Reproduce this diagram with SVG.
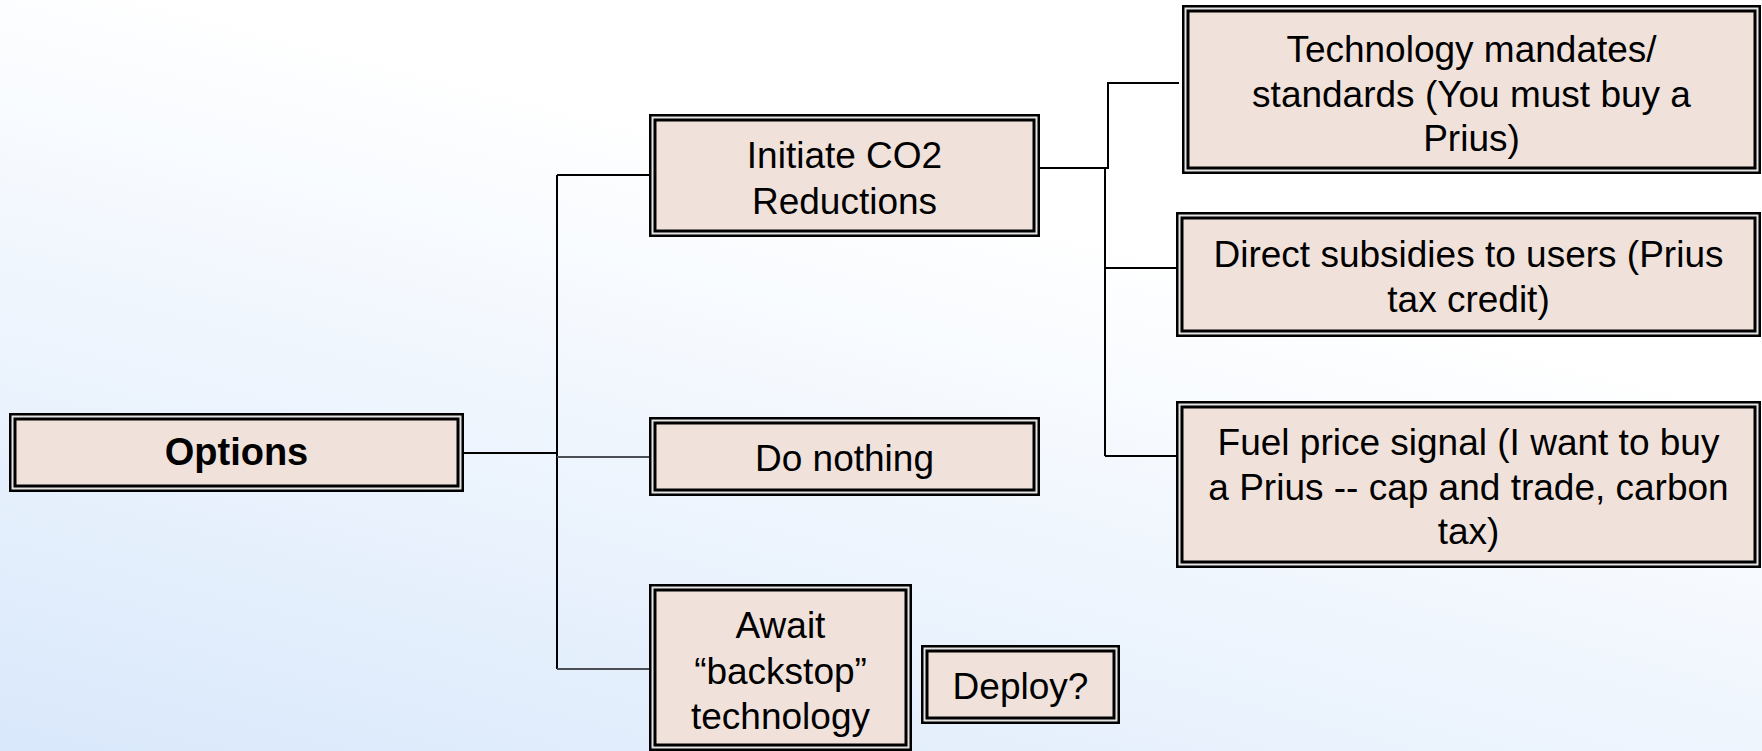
<svg xmlns="http://www.w3.org/2000/svg" width="1762" height="751" viewBox="0 0 1762 751">
  <defs>
    <!-- soft blue wash, light towards the top -->
    <linearGradient id="bg" gradientUnits="userSpaceOnUse" x1="0" y1="751" x2="192" y2="0">
      <stop offset="0" stop-color="#d9e8fb"/>
      <stop offset="1" stop-color="#ffffff"/>
    </linearGradient>
  </defs>
  <style>
    .outer { fill: #e4e4e4; stroke: #000; stroke-width: 2.5; }
    .inner { fill: #f0e2da; stroke: #000; stroke-width: 3; }
    .label { font-family: "Liberation Sans", Arial, sans-serif; font-size: 37px; fill: #000; text-anchor: middle; }
    .bold { font-weight: bold; font-size: 38px; }
    .wire { fill: none; stroke: #000; stroke-width: 2; }
    .wire-soft { fill: none; stroke: #4b4f55; stroke-width: 2; }
  </style>

  <rect x="0" y="0" width="1762" height="751" fill="url(#bg)"/>

  <!-- connectors -->
  <g id="connectors">
    <path class="wire" d="M464 453 H557"/>
    <path class="wire" d="M557 175 V669"/>
    <path class="wire" d="M557 175 H649"/>
    <path class="wire-soft" d="M557 457 H649"/>
    <path class="wire-soft" d="M557 669 H649"/>
    <path class="wire" d="M1040 168 H1108 V83 H1179"/>
    <path class="wire" d="M1105 168 V456"/>
    <path class="wire" d="M1105 268 H1176"/>
    <path class="wire" d="M1105 456 H1176"/>
  </g>

  <!-- root -->
  <g id="options">
    <rect class="outer" x="10.25" y="414.25" width="452.5" height="76.5"/>
    <rect class="inner" x="15" y="419" width="443" height="67"/>
    <text class="label bold" x="236.5" y="465">Options</text>
  </g>

  <!-- first level -->
  <g id="initiate">
    <rect class="outer" x="650.25" y="115.25" width="388.5" height="120.5"/>
    <rect class="inner" x="655" y="120" width="379" height="111"/>
    <text class="label" x="844.5" y="168">Initiate CO2</text>
    <text class="label" x="844.5" y="214">Reductions</text>
  </g>

  <g id="do-nothing">
    <rect class="outer" x="650.25" y="418.25" width="388.5" height="76.5"/>
    <rect class="inner" x="655" y="423" width="379" height="67"/>
    <text class="label" x="844.5" y="471">Do nothing</text>
  </g>

  <g id="await">
    <rect class="outer" x="650.25" y="585.25" width="260.5" height="164.5"/>
    <rect class="inner" x="655" y="590" width="251" height="155"/>
    <text class="label" x="780.5" y="638">Await</text>
    <text class="label" x="780.5" y="684">“backstop”</text>
    <text class="label" x="780.5" y="729">technology</text>
  </g>

  <g id="deploy">
    <rect class="outer" x="922.25" y="646.25" width="196.5" height="76.5"/>
    <rect class="inner" x="927" y="651" width="187" height="67"/>
    <text class="label" x="1020.5" y="699">Deploy?</text>
  </g>

  <!-- policy instruments -->
  <g id="mandates">
    <rect class="outer" x="1183.25" y="6.25" width="576.5" height="166.5"/>
    <rect class="inner" x="1188" y="11" width="567" height="157"/>
    <text class="label" x="1471.5" y="62">Technology mandates/</text>
    <text class="label" x="1471.5" y="107">standards (You must buy a</text>
    <text class="label" x="1471.5" y="151">Prius)</text>
  </g>

  <g id="subsidies">
    <rect class="outer" x="1177.25" y="213.25" width="582.5" height="122.5"/>
    <rect class="inner" x="1182" y="218" width="573" height="113"/>
    <text class="label" x="1468.5" y="267">Direct subsidies to users (Prius</text>
    <text class="label" x="1468.5" y="312">tax credit)</text>
  </g>

  <g id="fuel-price">
    <rect class="outer" x="1177.25" y="402.25" width="582.5" height="164.5"/>
    <rect class="inner" x="1182" y="407" width="573" height="155"/>
    <text class="label" x="1468.5" y="455">Fuel price signal (I want to buy</text>
    <text class="label" x="1468.5" y="500">a Prius -- cap and trade, carbon</text>
    <text class="label" x="1468.5" y="544">tax)</text>
  </g>
</svg>
